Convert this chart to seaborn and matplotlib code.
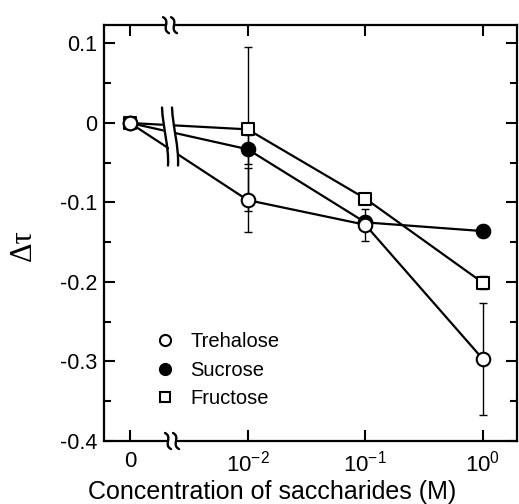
import matplotlib
matplotlib.use("Agg")
import numpy as np
import pandas as pd
import matplotlib.pyplot as plt
import seaborn as sns
from matplotlib.path import Path
from matplotlib.patches import PathPatch
from matplotlib.lines import Line2D

# Concentration of each saccharide (M); 0 is shown on the break at 10^-3
conc = [0.0, 1e-2, 1e-1, 1e0]
trehalose = [0.0, -0.097, -0.128, -0.297]
trehalose_err = [0.0, 0.040, 0.020, 0.070]
sucrose = [0.0, -0.033, -0.125, -0.136]
sucrose_err = [0.0, 0.018, 0.008, 0.008]
fructose = [0.0, -0.008, -0.095, -0.201]
fructose_err = [0.0, 0.103, 0.006, 0.008]

xtick_vals = [1e-3, 1e-2, 1e-1, 1e0]
xtick_labels = ["0", "10$^{-2}$", "10$^{-1}$", "10$^{0}$"]
ytick_vals = [-0.4, -0.3, -0.2, -0.1, 0.0, 0.1]
ytick_labels = ["-0.4", "-0.3", "-0.2", "-0.1", "0", "0.1"]

ZERO_POS = 1e-3

sns.set_theme(style="ticks")
plt.rcParams["font.family"] = ["Liberation Sans", "DejaVu Sans"]
plt.rcParams["mathtext.fontset"] = "custom"
plt.rcParams["mathtext.rm"] = "Liberation Sans"
plt.rcParams["mathtext.it"] = "Liberation Sans:italic"

series = {
    "Trehalose": (trehalose, trehalose_err, "o", "white"),
    "Sucrose": (sucrose, sucrose_err, "o", "black"),
    "Fructose": (fructose, fructose_err, "s", "white"),
}

rows = []
for name, (vals, errs, _, _) in series.items():
    for c, v, e in zip(conc, vals, errs):
        rows.append({"sugar": name, "x": ZERO_POS if c == 0 else c, "y": v, "err": e})
df = pd.DataFrame(rows)

fig = plt.figure(figsize=(5.19, 5.04), dpi=100)
ax = fig.add_axes([0.2004, 0.125, 0.7967, 0.825])
ax.set_xscale("log")

draw_order = ["Fructose", "Sucrose", "Trehalose"]
for name in draw_order:
    vals, errs, mk, fc = series[name]
    sub = df[df["sugar"] == name]
    nz = sub[sub["err"] > 0]
    ax.errorbar(nz["x"], nz["y"], yerr=nz["err"], fmt="none", ecolor="black",
                elinewidth=1.0, capsize=3, capthick=1.0, zorder=2)
    sns.lineplot(data=sub, x="x", y="y", ax=ax, color="black", lw=1.6,
                 legend=False, errorbar=None, sort=False, zorder=3)

# axis-break marks: two S strokes with a white gap between them
AX_W = 0.7967 * 519
AX_H = 0.825 * 504


def stroke_path(pts):
    return Path(pts, [Path.MOVETO, Path.CURVE4, Path.CURVE4, Path.CURVE4])


def draw_break(cx, cy, shape, gap, z, clip):
    left = [(cx + (px - gap / 2) / AX_W, cy + py / AX_H) for px, py in shape]
    right = [(cx + (px + gap / 2) / AX_W, cy + py / AX_H) for px, py in shape]
    fill = left + right[::-1] + [left[0]]
    ax.add_patch(plt.Polygon(fill, closed=True, transform=ax.transAxes,
                             facecolor="white", edgecolor="none", zorder=z,
                             clip_on=clip))
    for stroke in (left, right):
        ax.add_patch(PathPatch(stroke_path(stroke), transform=ax.transAxes,
                               facecolor="none", edgecolor="black", lw=1.7,
                               zorder=z + 0.1, clip_on=clip, capstyle="round"))


# S shape for the spine breaks (pixel offsets)
spine_s = [(-3, 8), (5, 4), (-5, -4), (3, -8)]
bx = (170 - 104) / AX_W
draw_break(bx, 1.0, spine_s, 8, 10, False)
draw_break(bx + 2 / AX_W, 0.0, spine_s, 8, 10, False)

# taller curved break across the data lines
line_s = [(-3, 29), (-2, 8), (4, -10), (3, -29)]
draw_break(bx, (441 - 136.5) / AX_H, line_s, 10, 4, True)

# markers drawn above lines and break
for i, name in enumerate(draw_order):
    vals, errs, mk, fc = series[name]
    sub = df[df["sugar"] == name]
    sns.scatterplot(data=sub, x="x", y="y", ax=ax, marker=mk,
                    s=95 if mk == "o" else 80, color=fc, edgecolor="black",
                    linewidth=1.5, zorder=6 + i, legend=False)

ax.set_xlim(10 ** -3.221, 10 ** 0.294)
ax.set_ylim(-0.4, 0.123)
ax.set_xticks(xtick_vals)
ax.set_xticklabels(xtick_labels)
ax.xaxis.set_minor_locator(matplotlib.ticker.NullLocator())
ax.set_yticks(ytick_vals)
ax.set_yticklabels(ytick_labels)
ax.set_yticks(np.arange(-0.35, 0.1, 0.1), minor=True)

ax.tick_params(which="both", direction="in", top=True, right=True,
               width=1.5, colors="black")
ax.tick_params(axis="x", which="major", labelsize=16, pad=7)
ax.tick_params(axis="y", which="major", labelsize=15.5, pad=5)
ax.tick_params(which="major", length=8)
ax.tick_params(which="minor", length=5)
for s in ax.spines.values():
    s.set_linewidth(1.6)
    s.set_color("black")

ax.set_xlabel("Concentration of saccharides (M)", fontsize=18, color="black")
ax.xaxis.set_label_coords(0.407, -0.093)
ax.set_ylabel("Δτ", fontsize=22, family=["Liberation Serif", "DejaVu Serif"], color="black")
ax.yaxis.set_label_coords(-0.16, 0.47)

handles = []
for name in ["Trehalose", "Sucrose", "Fructose"]:
    vals, errs, mk, fc = series[name]
    handles.append(Line2D([], [], ls="none", marker=mk, markersize=8 if mk == "o" else 7,
                          mfc=fc, mec="black", mew=1.5))
leg = ax.legend(handles, ["Trehalose", "Sucrose", "Fructose"], loc="upper left",
                bbox_to_anchor=(0.089, 0.295), frameon=False, fontsize=14.5,
                handlelength=1.0, handletextpad=0.75, labelspacing=0.47,
                borderpad=0.2)
for t in leg.get_texts():
    t.set_color("black")

fig.savefig("out.png", dpi=100)
